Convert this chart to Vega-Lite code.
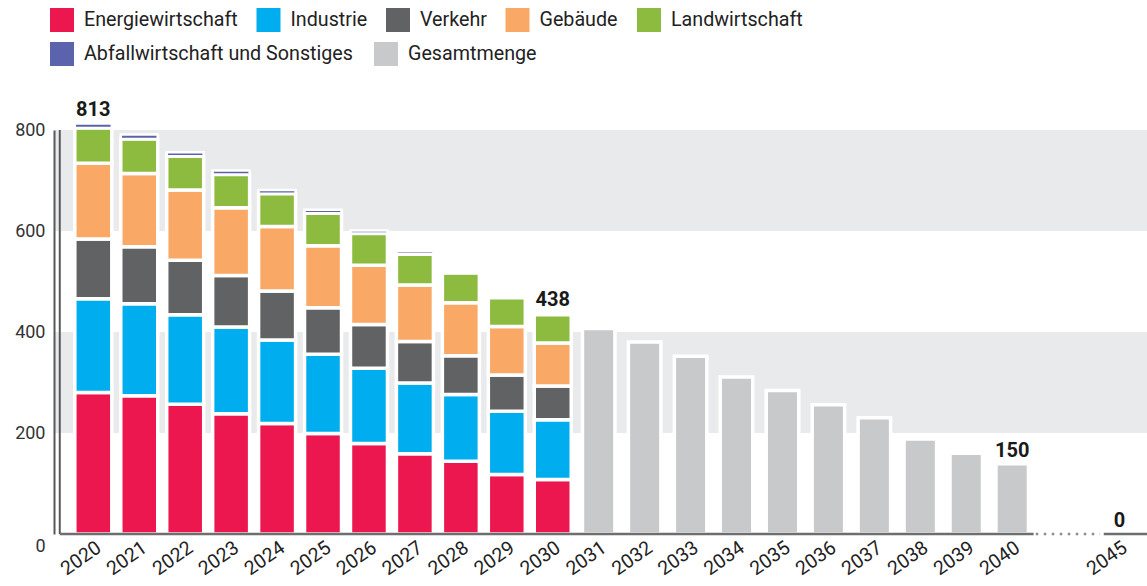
{
  "$schema": "https://vega.github.io/schema/vega-lite/v6.json",
  "width": 1093,
  "height": 404,
  "autosize": {"type": "none"},
  "padding": {"left": 54, "top": 130, "right": 0, "bottom": 52},
  "background": "white",
  "config": {"view": {"stroke": null}, "font": "Roboto",
    "axisY": {"domain": true, "domainColor": "#58595B", "domainWidth": 2, "zindex": 1}},
  "datasets": {
    "sektorliste": [
      {"Sektor": "Energiewirtschaft", "Nr": 1},
      {"Sektor": "Industrie", "Nr": 2},
      {"Sektor": "Verkehr", "Nr": 3},
      {"Sektor": "Gebäude", "Nr": 4},
      {"Sektor": "Landwirtschaft", "Nr": 5},
      {"Sektor": "Abfallwirtschaft und Sonstiges", "Nr": 6}
    ],
    "sektoren": [
      {"Jahr": 2020, "Sektor": "Energiewirtschaft", "Wert": 280},
      {"Jahr": 2020, "Sektor": "Industrie", "Wert": 186},
      {"Jahr": 2020, "Sektor": "Verkehr", "Wert": 118},
      {"Jahr": 2020, "Sektor": "Gebäude", "Wert": 150},
      {"Jahr": 2020, "Sektor": "Landwirtschaft", "Wert": 70},
      {"Jahr": 2020, "Sektor": "Abfallwirtschaft und Sonstiges", "Wert": 9},
      {"Jahr": 2021, "Sektor": "Energiewirtschaft", "Wert": 274},
      {"Jahr": 2021, "Sektor": "Industrie", "Wert": 182},
      {"Jahr": 2021, "Sektor": "Verkehr", "Wert": 113},
      {"Jahr": 2021, "Sektor": "Gebäude", "Wert": 145},
      {"Jahr": 2021, "Sektor": "Landwirtschaft", "Wert": 68},
      {"Jahr": 2021, "Sektor": "Abfallwirtschaft und Sonstiges", "Wert": 9},
      {"Jahr": 2022, "Sektor": "Energiewirtschaft", "Wert": 257},
      {"Jahr": 2022, "Sektor": "Industrie", "Wert": 177},
      {"Jahr": 2022, "Sektor": "Verkehr", "Wert": 108},
      {"Jahr": 2022, "Sektor": "Gebäude", "Wert": 139},
      {"Jahr": 2022, "Sektor": "Landwirtschaft", "Wert": 67},
      {"Jahr": 2022, "Sektor": "Abfallwirtschaft und Sonstiges", "Wert": 8},
      {"Jahr": 2023, "Sektor": "Energiewirtschaft", "Wert": 238},
      {"Jahr": 2023, "Sektor": "Industrie", "Wert": 172},
      {"Jahr": 2023, "Sektor": "Verkehr", "Wert": 102},
      {"Jahr": 2023, "Sektor": "Gebäude", "Wert": 134},
      {"Jahr": 2023, "Sektor": "Landwirtschaft", "Wert": 66},
      {"Jahr": 2023, "Sektor": "Abfallwirtschaft und Sonstiges", "Wert": 8},
      {"Jahr": 2024, "Sektor": "Energiewirtschaft", "Wert": 219},
      {"Jahr": 2024, "Sektor": "Industrie", "Wert": 165},
      {"Jahr": 2024, "Sektor": "Verkehr", "Wert": 97},
      {"Jahr": 2024, "Sektor": "Gebäude", "Wert": 128},
      {"Jahr": 2024, "Sektor": "Landwirtschaft", "Wert": 65},
      {"Jahr": 2024, "Sektor": "Abfallwirtschaft und Sonstiges", "Wert": 7},
      {"Jahr": 2025, "Sektor": "Energiewirtschaft", "Wert": 199},
      {"Jahr": 2025, "Sektor": "Industrie", "Wert": 157},
      {"Jahr": 2025, "Sektor": "Verkehr", "Wert": 92},
      {"Jahr": 2025, "Sektor": "Gebäude", "Wert": 123},
      {"Jahr": 2025, "Sektor": "Landwirtschaft", "Wert": 64},
      {"Jahr": 2025, "Sektor": "Abfallwirtschaft und Sonstiges", "Wert": 7},
      {"Jahr": 2026, "Sektor": "Energiewirtschaft", "Wert": 179},
      {"Jahr": 2026, "Sektor": "Industrie", "Wert": 149},
      {"Jahr": 2026, "Sektor": "Verkehr", "Wert": 87},
      {"Jahr": 2026, "Sektor": "Gebäude", "Wert": 117},
      {"Jahr": 2026, "Sektor": "Landwirtschaft", "Wert": 63},
      {"Jahr": 2026, "Sektor": "Abfallwirtschaft und Sonstiges", "Wert": 6},
      {"Jahr": 2027, "Sektor": "Energiewirtschaft", "Wert": 159},
      {"Jahr": 2027, "Sektor": "Industrie", "Wert": 140},
      {"Jahr": 2027, "Sektor": "Verkehr", "Wert": 82},
      {"Jahr": 2027, "Sektor": "Gebäude", "Wert": 112},
      {"Jahr": 2027, "Sektor": "Landwirtschaft", "Wert": 61},
      {"Jahr": 2027, "Sektor": "Abfallwirtschaft und Sonstiges", "Wert": 6},
      {"Jahr": 2028, "Sektor": "Energiewirtschaft", "Wert": 144},
      {"Jahr": 2028, "Sektor": "Industrie", "Wert": 132},
      {"Jahr": 2028, "Sektor": "Verkehr", "Wert": 77},
      {"Jahr": 2028, "Sektor": "Gebäude", "Wert": 105},
      {"Jahr": 2028, "Sektor": "Landwirtschaft", "Wert": 59},
      {"Jahr": 2028, "Sektor": "Abfallwirtschaft und Sonstiges", "Wert": 5},
      {"Jahr": 2029, "Sektor": "Energiewirtschaft", "Wert": 118},
      {"Jahr": 2029, "Sektor": "Industrie", "Wert": 125},
      {"Jahr": 2029, "Sektor": "Verkehr", "Wert": 72},
      {"Jahr": 2029, "Sektor": "Gebäude", "Wert": 96},
      {"Jahr": 2029, "Sektor": "Landwirtschaft", "Wert": 57},
      {"Jahr": 2029, "Sektor": "Abfallwirtschaft und Sonstiges", "Wert": 5},
      {"Jahr": 2030, "Sektor": "Energiewirtschaft", "Wert": 108},
      {"Jahr": 2030, "Sektor": "Industrie", "Wert": 118},
      {"Jahr": 2030, "Sektor": "Verkehr", "Wert": 67},
      {"Jahr": 2030, "Sektor": "Gebäude", "Wert": 85},
      {"Jahr": 2030, "Sektor": "Landwirtschaft", "Wert": 56},
      {"Jahr": 2030, "Sektor": "Abfallwirtschaft und Sonstiges", "Wert": 4}
    ],
    "gesamt": [
      {"Jahr": 2031, "Sektor": "Gesamtmenge", "Wert": 407},
      {"Jahr": 2032, "Sektor": "Gesamtmenge", "Wert": 380},
      {"Jahr": 2033, "Sektor": "Gesamtmenge", "Wert": 352},
      {"Jahr": 2034, "Sektor": "Gesamtmenge", "Wert": 311},
      {"Jahr": 2035, "Sektor": "Gesamtmenge", "Wert": 284},
      {"Jahr": 2036, "Sektor": "Gesamtmenge", "Wert": 256},
      {"Jahr": 2037, "Sektor": "Gesamtmenge", "Wert": 230},
      {"Jahr": 2038, "Sektor": "Gesamtmenge", "Wert": 188},
      {"Jahr": 2039, "Sektor": "Gesamtmenge", "Wert": 160},
      {"Jahr": 2040, "Sektor": "Gesamtmenge", "Wert": 139}
    ],
    "summen": [
      {"Jahr": 2020, "Wert": 813, "Text": "813"},
      {"Jahr": 2030, "Wert": 438, "Text": "438"},
      {"Jahr": 2040, "Wert": 139, "Text": "150"},
      {"Jahr": 2045, "Wert": 0, "Text": "0"}
    ],
    "baender": [
      {"von": 200, "bis": 400},
      {"von": 600, "bis": 800}
    ],
    "achse": [
      {"Abschnitt": "Nulllinie"}
    ]
  },
  "layer": [
    {
      "data": {"name": "baender"},
      "mark": {"type": "rect", "color": "#E9EAEC"},
      "encoding": {
        "y": {"field": "von", "type": "quantitative", "title": null,
          "scale": {"domain": [0, 800], "nice": false, "zero": true},
          "axis": {"values": [0, 200, 400, 600, 800], "title": null, "grid": false, "ticks": false,
            "domain": true, "domainColor": "#58595B", "domainWidth": 2, "labelFontSize": 18,
            "labelColor": "#333333", "labelPadding": 9, "zindex": 1,
            "labelOffset": {"condition": {"test": "datum.value === 0", "value": 12}, "value": 0}}},
        "y2": {"field": "bis"}
      }
    },
    {
      "data": {"name": "sektoren"},
      "transform": [
        {"lookup": "Sektor", "from": {"data": {"name": "sektorliste"}, "key": "Sektor", "fields": ["Nr"]}},
        {"stack": "Wert", "groupby": ["Jahr"], "sort": [{"field": "Nr", "order": "ascending"}], "as": ["unten", "oben"]},
        {"filter": "datum.Sektor !== 'Abfallwirtschaft und Sonstiges'"}
      ],
      "mark": {"type": "bar", "orient": "vertical", "width": 37, "stroke": "white", "strokeWidth": 3.5},
      "encoding": {
        "x": {"field": "Jahr", "type": "quantitative", "title": null,
          "scale": {"type": "linear", "domain": [2020, 2040, 2045], "range": [33.7, 958.2, 1068], "nice": false, "zero": false},
          "axis": {"values": [2020, 2021, 2022, 2023, 2024, 2025, 2026, 2027, 2028, 2029, 2030, 2031, 2032, 2033, 2034, 2035, 2036, 2037, 2038, 2039, 2040, 2045],
            "format": "d", "labelAngle": -35, "labelAlign": "right", "labelBaseline": "top", "labelFontSize": 19.5,
            "labelColor": "#222222", "labelPadding": 4, "ticks": false, "domain": false, "grid": false,
            "labelOverlap": false, "labelFlush": false, "labelBound": false, "title": null}},
        "y": {"field": "unten", "type": "quantitative", "title": null},
        "y2": {"field": "oben"},
        "color": {"field": "Sektor", "type": "nominal",
          "scale": {"domain": ["Energiewirtschaft", "Industrie", "Verkehr", "Gebäude", "Landwirtschaft"],
            "range": ["#ED1750", "#00AEEF", "#616264", "#F9A866", "#8DBB3F"]},
          "legend": {"title": null, "orient": "none", "legendX": -4, "legendY": -122, "direction": "horizontal",
            "columns": 5, "symbolType": "square", "symbolSize": 576, "symbolStrokeWidth": 0,
            "symbolStrokeColor": "transparent", "labelFontSize": 19.7, "labelFont": "Roboto", "labelColor": "#222222",
            "labelOffset": 10, "columnPadding": 18.5, "rowPadding": 10, "padding": 0, "labelLimit": 400}}
      }
    },
    {
      "data": {"name": "sektoren"},
      "transform": [
        {"lookup": "Sektor", "from": {"data": {"name": "sektorliste"}, "key": "Sektor", "fields": ["Nr"]}},
        {"stack": "Wert", "groupby": ["Jahr"], "sort": [{"field": "Nr", "order": "ascending"}], "as": ["unten", "oben"]},
        {"filter": "datum.Sektor === 'Abfallwirtschaft und Sonstiges'"}
      ],
      "mark": {"type": "bar", "orient": "vertical", "width": 37, "stroke": "white", "strokeWidth": 2.5},
      "encoding": {
        "x": {"field": "Jahr", "type": "quantitative", "title": null},
        "y": {"field": "unten", "type": "quantitative", "title": null},
        "y2": {"field": "oben"},
        "fill": {"field": "Sektor", "type": "nominal",
          "scale": {"domain": ["Abfallwirtschaft und Sonstiges", "Gesamtmenge"], "range": ["#5A63AB", "#C8C9CB"]},
          "legend": {"title": null, "orient": "none", "legendX": -4, "legendY": -88, "direction": "horizontal",
            "columns": 2, "symbolType": "square", "symbolSize": 576, "symbolStrokeWidth": 0,
            "symbolStrokeColor": "transparent", "labelFontSize": 19.7, "labelFont": "Roboto", "labelColor": "#222222",
            "labelOffset": 10, "columnPadding": 21, "rowPadding": 10, "padding": 0, "labelLimit": 400}}
      }
    },
    {
      "data": {"name": "gesamt"},
      "mark": {"type": "bar", "orient": "vertical", "width": 32.5, "stroke": "white", "strokeWidth": 3.5},
      "encoding": {
        "x": {"field": "Jahr", "type": "quantitative", "title": null},
        "y": {"field": "Wert", "type": "quantitative", "title": null, "stack": null},
        "fill": {"field": "Sektor", "type": "nominal"}
      }
    },
    {
      "data": {"name": "achse"},
      "mark": {"type": "rule", "color": "#58595B", "strokeWidth": 2},
      "encoding": {
        "x": {"datum": 2019.27, "type": "quantitative"},
        "y": {"datum": 0, "type": "quantitative"},
        "y2": {"datum": 800}
      }
    },
    {
      "data": {"name": "achse"},
      "mark": {"type": "rule", "color": "#6D6E70", "strokeWidth": 2.5},
      "encoding": {
        "x": {"datum": 2019.27, "type": "quantitative"},
        "x2": {"datum": 2041.0},
        "y": {"datum": 0, "type": "quantitative"}
      }
    },
    {
      "data": {"name": "achse"},
      "mark": {"type": "rule", "color": "#8A8B8D", "strokeWidth": 2.5, "strokeDash": [2.5, 5.5]},
      "encoding": {
        "x": {"datum": 2041.1, "type": "quantitative"},
        "x2": {"datum": 2044.1},
        "y": {"datum": 0, "type": "quantitative"}
      }
    },
    {
      "data": {"name": "achse"},
      "mark": {"type": "rule", "color": "#6D6E70", "strokeWidth": 2.5},
      "encoding": {
        "x": {"datum": 2044.27, "type": "quantitative"},
        "x2": {"datum": 2046.5},
        "y": {"datum": 0, "type": "quantitative"}
      }
    },
    {
      "data": {"name": "summen"},
      "mark": {"type": "text", "fontSize": 20, "fontWeight": "bold", "color": "#1A1A1A", "align": "center", "baseline": "alphabetic", "dy": -7},
      "encoding": {
        "x": {"field": "Jahr", "type": "quantitative", "title": null},
        "y": {"field": "Wert", "type": "quantitative", "title": null},
        "text": {"field": "Text"}
      }
    }
  ]
}
